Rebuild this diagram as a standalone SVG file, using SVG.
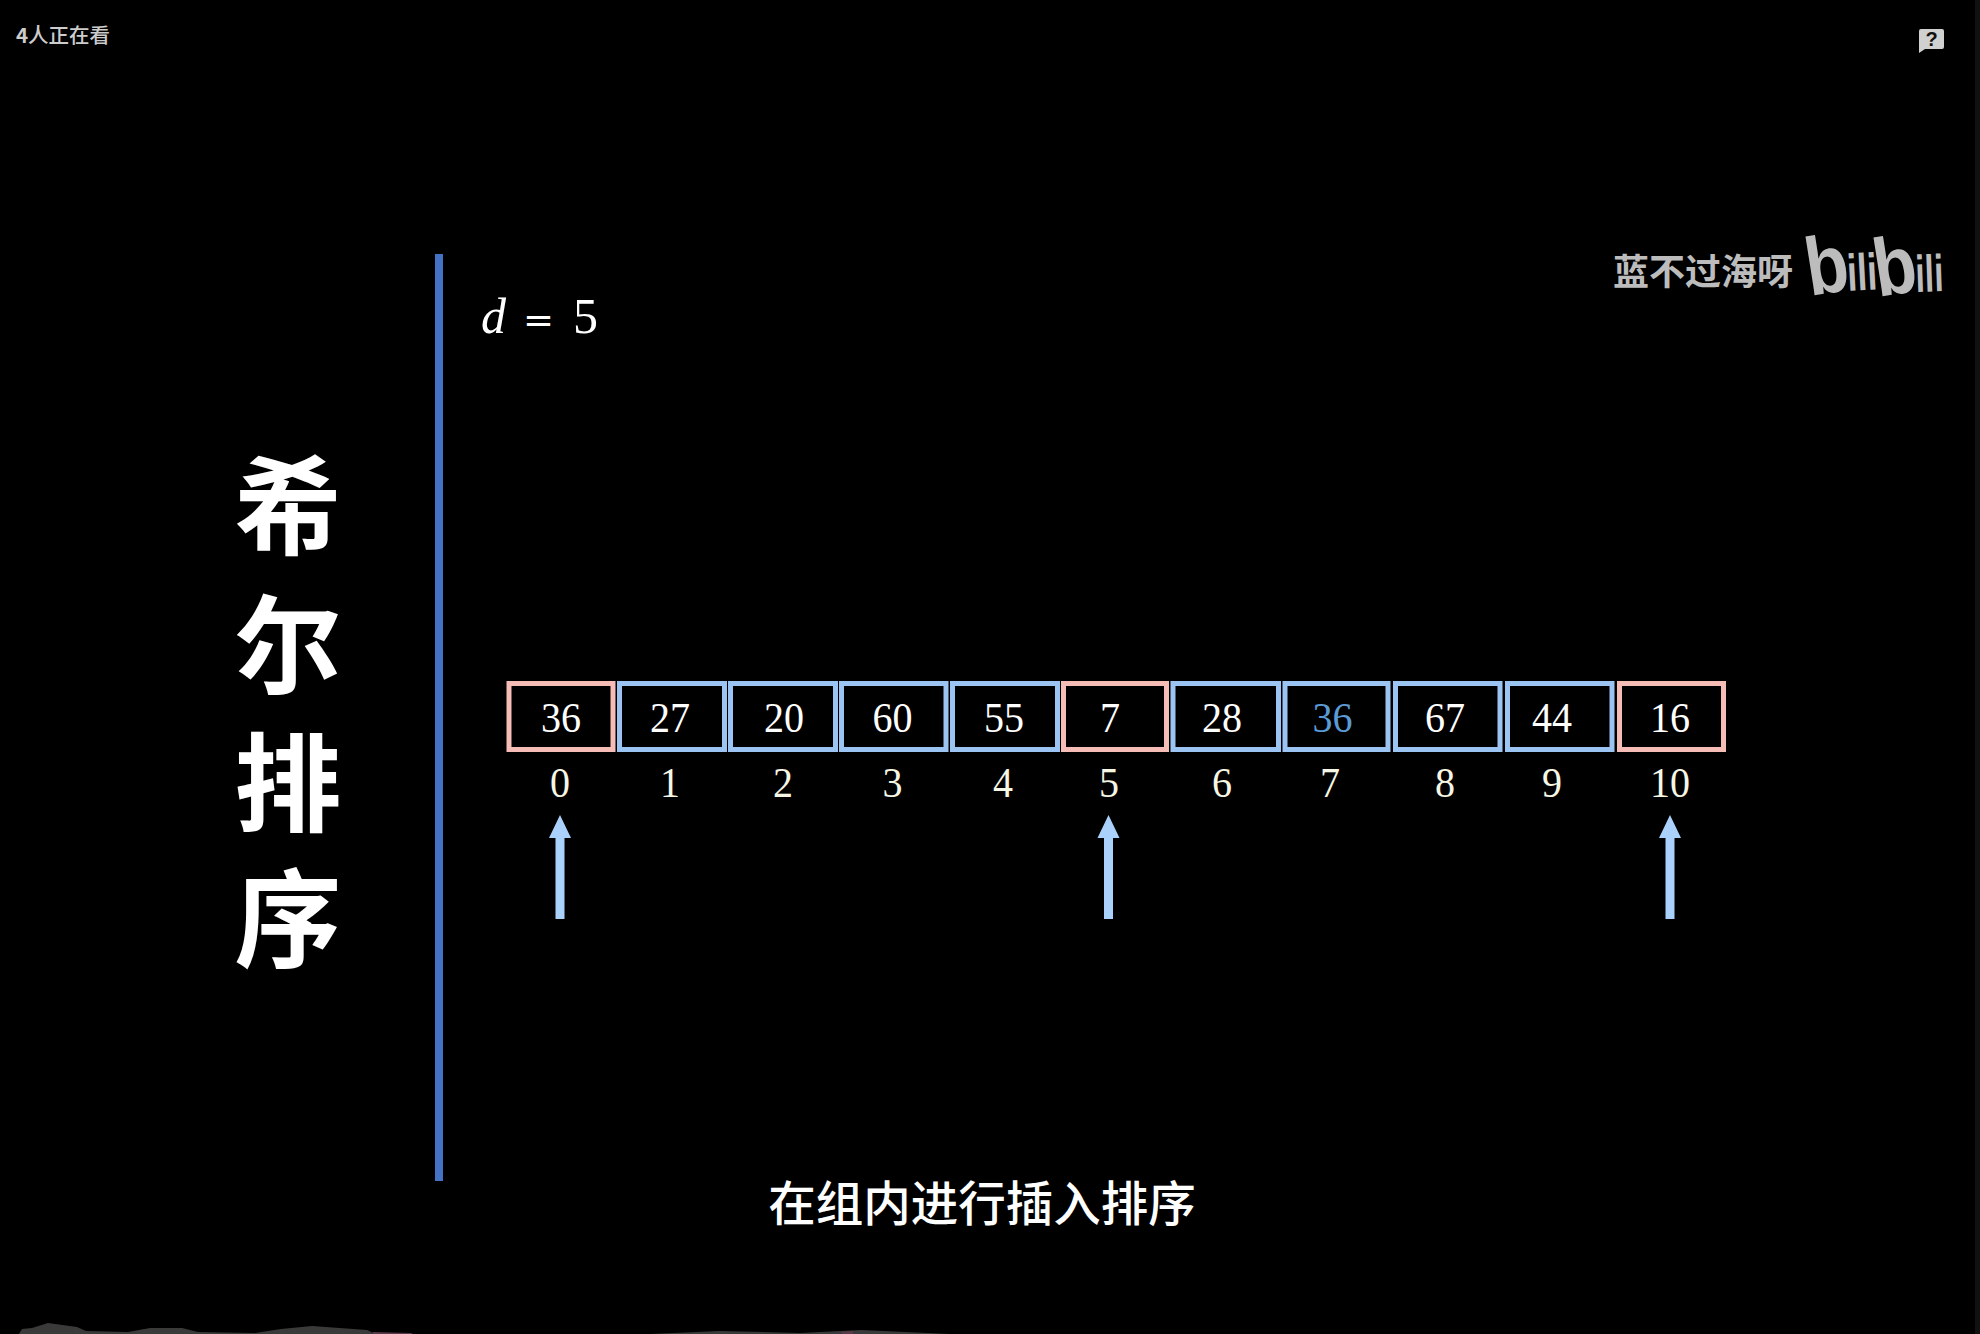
<svg xmlns="http://www.w3.org/2000/svg" width="1980" height="1334" viewBox="0 0 1980 1334">
<style>
.cjk{font-family:"Noto Sans CJK SC","Noto Sans",sans-serif}
.num{font-family:"Liberation Serif",serif;font-size:43px;text-anchor:middle;fill:#fff}
.idx{fill:#f6f6e4}
.p{fill:none;stroke:#f6bcb6;stroke-width:5}
.b{fill:none;stroke:#9cc4f2;stroke-width:5}
.title{font-size:107px;font-weight:700;fill:#fff;text-anchor:middle}
.mark{fill:#bcbcbc}
</style>
<defs><path id="arrow" d="M-4.500 919V838H-11L0 815L11 838H4.500V919Z" fill="#a9d1fb"/></defs>
<rect width="1980" height="1334" fill="#000"/>
<rect x="1975" y="0" width="5" height="1334" fill="#111"/>
<g id="viewers"><text x="16" y="43" class="cjk" font-size="20.500" font-weight="500" fill="#ccc"><tspan font-weight="700">4</tspan>人正在看</text></g>
<g id="help-icon"><path d="M1921 29H1942Q1944 29 1944 31V47Q1944 49 1942 49H1925L1919 53V31Q1919 29 1921 29Z" fill="#d0d0d0"/><text x="1931.500" y="46" font-family="Liberation Sans,sans-serif" font-size="20" font-weight="700" text-anchor="middle" fill="#111">?</text></g>
<g id="watermark">
<text x="1613" y="285" class="cjk mark" font-size="36" font-weight="700">蓝不过海呀</text>
<g font-family="Liberation Sans,sans-serif" font-weight="700" class="mark">
<text transform="translate(1810 296) rotate(-9) scale(.85 1)" font-size="82">b</text>
<text transform="translate(1848 291) rotate(-3)" font-size="52" textLength="30" lengthAdjust="spacingAndGlyphs">ili</text>
<text transform="translate(1878 297) rotate(-9) scale(.85 1)" font-size="82">b</text>
<text transform="translate(1916 292) rotate(-2)" font-size="52" textLength="28" lengthAdjust="spacingAndGlyphs">ili</text>
</g></g>
<g id="title" class="cjk"><rect x="435" y="254" width="8" height="927" fill="#4472c4"/>
<text class="title"><tspan x="288" y="546">希</tspan><tspan x="288" y="685">尔</tspan><tspan x="288" y="823">排</tspan><tspan x="288" y="959">序</tspan></text></g>
<g id="formula" fill="#fff"><text x="481" y="333" font-size="50" font-family="Liberation Serif,serif" font-style="italic">d</text><text x="523" y="333" font-size="37" font-family="DejaVu Serif,serif">=</text><text x="573" y="333" font-size="50" font-family="Liberation Serif,serif">5</text></g>
<g id="cell-0"><rect class="p" x="509" y="683.500" width="104" height="66"/><text class="num" x="561" y="732" textLength="40" lengthAdjust="spacingAndGlyphs">36</text><text class="num idx" x="560" y="797" textLength="20" lengthAdjust="spacingAndGlyphs">0</text></g>
<g id="cell-1"><rect class="b" x="619.500" y="683.500" width="105" height="66"/><text class="num" x="670" y="732" textLength="40" lengthAdjust="spacingAndGlyphs">27</text><text class="num idx" x="670" y="797" textLength="20" lengthAdjust="spacingAndGlyphs">1</text></g>
<g id="cell-2"><rect class="b" x="730.500" y="683.500" width="105" height="66"/><text class="num" x="784" y="732" textLength="40" lengthAdjust="spacingAndGlyphs">20</text><text class="num idx" x="783" y="797" textLength="20" lengthAdjust="spacingAndGlyphs">2</text></g>
<g id="cell-3"><rect class="b" x="841.500" y="683.500" width="104.500" height="66"/><text class="num" x="892.500" y="732" textLength="40" lengthAdjust="spacingAndGlyphs">60</text><text class="num idx" x="892.500" y="797" textLength="20" lengthAdjust="spacingAndGlyphs">3</text></g>
<g id="cell-4"><rect class="b" x="952.500" y="683.500" width="105" height="66"/><text class="num" x="1004" y="732" textLength="40" lengthAdjust="spacingAndGlyphs">55</text><text class="num idx" x="1003" y="797" textLength="20" lengthAdjust="spacingAndGlyphs">4</text></g>
<g id="cell-5"><rect class="p" x="1063.500" y="683.500" width="103" height="66"/><text class="num" x="1110" y="732" textLength="20" lengthAdjust="spacingAndGlyphs">7</text><text class="num idx" x="1109" y="797" textLength="20" lengthAdjust="spacingAndGlyphs">5</text></g>
<g id="cell-6"><rect class="b" x="1173" y="683.500" width="105.500" height="66"/><text class="num" x="1222" y="732" textLength="40" lengthAdjust="spacingAndGlyphs">28</text><text class="num idx" x="1222" y="797" textLength="20" lengthAdjust="spacingAndGlyphs">6</text></g>
<g id="cell-7"><rect class="b" x="1285" y="683.500" width="103" height="66"/><text class="num" x="1332.500" y="732" style="fill:#5b9bd5" textLength="40" lengthAdjust="spacingAndGlyphs">36</text><text class="num idx" x="1330" y="797" textLength="20" lengthAdjust="spacingAndGlyphs">7</text></g>
<g id="cell-8"><rect class="b" x="1395.500" y="683.500" width="104.500" height="66"/><text class="num" x="1445" y="732" textLength="40" lengthAdjust="spacingAndGlyphs">67</text><text class="num idx" x="1445" y="797" textLength="20" lengthAdjust="spacingAndGlyphs">8</text></g>
<g id="cell-9"><rect class="b" x="1507.500" y="683.500" width="104.500" height="66"/><text class="num" x="1552" y="732" textLength="40" lengthAdjust="spacingAndGlyphs">44</text><text class="num idx" x="1552" y="797" textLength="20" lengthAdjust="spacingAndGlyphs">9</text></g>
<g id="cell-10"><rect class="p" x="1619.500" y="683.500" width="104" height="66"/><text class="num" x="1670" y="732" textLength="40" lengthAdjust="spacingAndGlyphs">16</text><text class="num idx" x="1670" y="797" textLength="40" lengthAdjust="spacingAndGlyphs">10</text></g>
<g id="connectors"><use href="#arrow" x="560"/><use href="#arrow" x="1108.500"/><use href="#arrow" x="1670"/></g>
<g id="caption"><text x="982" y="1221" class="cjk" font-size="47.500" font-weight="500" fill="#fff" text-anchor="middle">在组内进行插入排序</text></g>
<g id="bottom-strip">
<path d="M19 1334L22 1329L32 1328L48 1323L77 1327L86 1331L128 1332L150 1328L182 1328L198 1332L255 1333L281 1329L312 1326L367 1330L376 1334ZM650 1334L720 1331L800 1333L861 1330L950 1334Z" fill="#3a3a3a"/>
<path d="M373 1332L411 1333L413 1334H373ZM842 1332L853 1331L853 1334H842Z" fill="#5a3a48"/>
</g>
</svg>
